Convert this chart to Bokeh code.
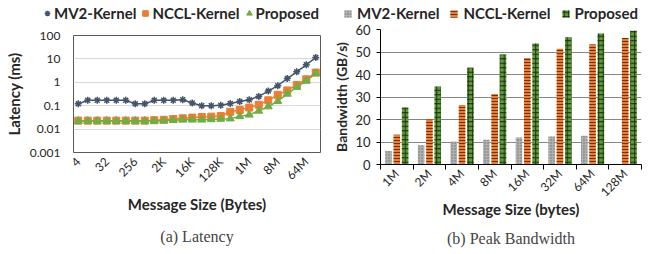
import math
from bokeh.plotting import figure
from bokeh.layouts import row, column
from bokeh.models import (ColumnDataSource, Range1d, FixedTicker, CustomJSTickFormatter,
                          Legend, LegendItem, Title)
from bokeh.transform import dodge
from bokeh.embed import file_html
from bokeh.resources import INLINE

# ---------------- data: latency ----------------
lat_sizes = ["4", "8", "16", "32", "64", "128", "256", "512", "1K", "2K", "4K", "8K",
             "16K", "32K", "64K", "128K", "256K", "512K", "1M", "2M", "4M", "8M",
             "16M", "32M", "64M", "128M"]
lat_mv2 = [0.12, 0.17, 0.17, 0.17, 0.17, 0.17, 0.12, 0.12, 0.17, 0.17, 0.17, 0.18,
           0.13, 0.10, 0.10, 0.105, 0.125, 0.15, 0.18, 0.25, 0.42, 0.72, 1.45, 2.8, 5.6, 11.5]
lat_nccl = [0.023, 0.023, 0.023, 0.023, 0.023, 0.023, 0.023, 0.023, 0.024, 0.025, 0.027,
            0.029, 0.031, 0.033, 0.034, 0.036, 0.055, 0.065, 0.083, 0.11, 0.17, 0.29,
            0.45, 0.77, 1.35, 2.6]
lat_prop = [0.022, 0.022, 0.022, 0.022, 0.022, 0.022, 0.022, 0.022, 0.022, 0.023, 0.024,
            0.025, 0.025, 0.025, 0.026, 0.027, 0.028, 0.035, 0.041, 0.06, 0.092, 0.155,
            0.32, 0.62, 1.15, 2.4]
lat_label_step = 3
lat_yticks = [0.001, 0.01, 0.1, 1, 10, 100]

# ---------------- data: bandwidth ----------------
bw_sizes = ["1M", "2M", "4M", "8M", "16M", "32M", "64M", "128M"]
bw_mv2 = [6.0, 8.6, 10.2, 11.0, 12.0, 12.4, 12.8, None]
bw_nccl = [13.2, 20.0, 26.4, 31.3, 47.3, 51.5, 53.3, 56.2]
bw_prop = [25.3, 34.7, 43.0, 48.9, 53.8, 56.6, 58.2, 59.4]
bw_yticks = [0, 10, 20, 30, 40, 50, 60]

series_names = ["MV2-Kernel", "NCCL-Kernel", "Proposed"]

SANS = "Lato"
SERIF = "Liberation Serif"
C_MV2 = "#44546A"
C_NCCL = "#ED7D31"
C_PROP = "#70AD47"
TXT = "#262626"
LEG_H = 24
TOTAL_H = 253


def style_axis_label(ax, text, standoff, size="15px"):
    ax.axis_label = text
    ax.axis_label_text_font = SANS
    ax.axis_label_text_font_size = size
    ax.axis_label_text_font_style = "bold"
    ax.axis_label_text_color = TXT
    ax.axis_label_standoff = standoff


def legend_fig(width):
    f = figure(width=width, height=LEG_H, output_backend="svg", toolbar_location=None,
               x_axis_type=None, y_axis_type=None, x_range=Range1d(0, 1), y_range=Range1d(0, 1),
               min_border=0, min_border_left=0, min_border_right=0, min_border_top=0,
               min_border_bottom=0)
    f.outline_line_color = None
    f.background_fill_color = "white"
    f.border_fill_color = "white"
    f.grid.visible = False
    return f


def make_legend(items, loc, gw, gh, standoff, spacing):
    return Legend(items=items, orientation="horizontal", location=loc,
                  glyph_width=gw, glyph_height=gh, label_standoff=standoff, spacing=spacing,
                  padding=0, margin=0, background_fill_alpha=0, border_line_color=None,
                  label_text_font=SANS, label_text_font_size="15px",
                  label_text_font_style="bold", label_text_color=TXT)


# ================= Left: latency =================
idx = list(range(len(lat_sizes)))
src_lat = ColumnDataSource(dict(x=idx, mv2=lat_mv2, nccl=lat_nccl, prop=lat_prop))

p1 = figure(width=330, height=TOTAL_H - LEG_H, output_backend="svg", toolbar_location=None,
            y_axis_type="log", x_range=Range1d(-0.5, len(idx) - 0.5),
            y_range=Range1d(lat_yticks[0], lat_yticks[-1]),
            min_border_left=73, min_border_right=10, min_border_top=35 - LEG_H, min_border_bottom=20)
p1.background_fill_color = "white"
p1.border_fill_color = "white"
p1.outline_line_color = "#595959"
p1.outline_line_width = 1

l1 = legend_fig(330)
marker_specs = [("mv2", C_MV2, "asterisk"), ("nccl", C_NCCL, "square"), ("prop", C_PROP, "triangle")]
leg_r1 = []
for col, colr, mk in marker_specs:
    p1.line("x", col, source=src_lat, line_color=colr, line_width=1.5)
    sz = 7 if mk != "triangle" else 8
    kw = dict(marker=mk, size=sz, line_color=colr, fill_color=colr,
              line_width=1.5 if mk == "asterisk" else 1)
    p1.scatter("x", col, source=src_lat, **kw)
    leg_r1.append(l1.scatter("x", col, source=src_lat, visible=False, **kw))

p1.xgrid.visible = False
p1.ygrid.grid_line_color = "#D9D9D9"
p1.ygrid.grid_line_width = 1

xa = p1.xaxis[0]
xa.ticker = FixedTicker(ticks=idx[::lat_label_step], minor_ticks=[])
xa.major_label_overrides = {i: lat_sizes[i] for i in idx[::lat_label_step]}
xa.major_label_orientation = math.pi / 4
xa.axis_line_color = None
xa.major_tick_line_color = None
xa.major_tick_out = 0
xa.major_tick_in = 0
xa.minor_tick_line_color = None
xa.major_label_text_font = SANS
xa.major_label_text_font_size = "12px"
xa.major_label_text_color = TXT
xa.major_label_standoff = 7
style_axis_label(xa, "Message Size (Bytes)", 2)

ya = p1.yaxis[0]
ya.ticker = FixedTicker(ticks=lat_yticks, minor_ticks=[])
ya.formatter = CustomJSTickFormatter(code="return tick >= 1 ? tick.toFixed(0) : tick.toPrecision(1);")
ya.axis_line_color = None
ya.major_tick_line_color = None
ya.major_tick_out = 0
ya.major_tick_in = 0
ya.minor_tick_line_color = None
ya.major_label_text_font = SANS
ya.major_label_text_font_size = "12px"
ya.major_label_text_color = TXT
ya.major_label_standoff = 13
style_axis_label(ya, "Latency (ms)", 4)

l1.add_layout(make_legend([LegendItem(label=n, renderers=[r]) for n, r in zip(series_names, leg_r1)],
                          (40, 2), 14, 16, 0, 2), "center")

p1.add_layout(Title(text="(a) Latency", align="center", text_font=SERIF,
                    text_font_size="16px", text_font_style="normal", standoff=18), "below")

# ================= Right: bandwidth =================
bidx = list(range(len(bw_sizes)))
src_bw = ColumnDataSource(dict(x=bidx,
                               mv2=[float("nan") if v is None else v for v in bw_mv2],
                               nccl=bw_nccl, prop=bw_prop))

p2 = figure(width=331, height=TOTAL_H - LEG_H, output_backend="svg", toolbar_location=None,
            x_range=Range1d(-0.5, len(bidx) - 0.5),
            y_range=Range1d(bw_yticks[0], bw_yticks[-1]),
            min_border_left=49, min_border_right=20, min_border_top=29 - LEG_H, min_border_bottom=20)
p2.background_fill_color = "white"
p2.border_fill_color = "white"
p2.outline_line_color = None

l2 = legend_fig(331)
bw = 0.2
off = 0.255
bar_specs = [
    ("mv2", -off, dict(fill_color="#B0B0B0", hatch_pattern="dot", hatch_color="#707070", hatch_scale=3)),
    ("nccl", 0.0, dict(fill_color=C_NCCL, hatch_pattern="horizontal_line", hatch_color="#6B3310", hatch_scale=3)),
    ("prop", off, dict(fill_color="#5E9E3B", hatch_pattern="cross", hatch_color="#1F2E14", hatch_scale=4.5)),
]
leg_r2 = []
for col, o, st in bar_specs:
    p2.vbar(x=dodge("x", o, range=p2.x_range), top=col, width=bw, source=src_bw,
            line_color=None, hatch_weight=1, **st)
    leg_r2.append(l2.vbar(x="x", top=col, width=bw, source=src_bw, visible=False,
                          line_color=None, hatch_weight=1, **st))

p2.xgrid.visible = False
p2.ygrid.grid_line_color = "#868686"
p2.ygrid.grid_line_width = 1

xb = p2.xaxis[0]
xb.ticker = FixedTicker(ticks=bidx, minor_ticks=[i - 0.5 for i in range(len(bidx) + 1)])
xb.major_label_overrides = {i: bw_sizes[i] for i in bidx}
xb.major_label_orientation = math.pi / 4
xb.axis_line_color = "black"
xb.axis_line_width = 1
xb.major_tick_line_color = None
xb.major_tick_out = 0
xb.major_tick_in = 0
xb.minor_tick_line_color = "black"
xb.minor_tick_in = 0
xb.minor_tick_out = 5
xb.major_label_text_font = SANS
xb.major_label_text_font_size = "12px"
xb.major_label_text_color = TXT
xb.major_label_standoff = 2
style_axis_label(xb, "Message Size (bytes)", -8)

yb = p2.yaxis[0]
yb.ticker = FixedTicker(ticks=bw_yticks, minor_ticks=[])
yb.axis_line_color = "black"
yb.major_tick_line_color = "black"
yb.major_tick_in = 0
yb.major_tick_out = 4
yb.minor_tick_line_color = None
yb.major_label_text_font = SANS
yb.major_label_text_font_size = "13px"
yb.major_label_text_color = TXT
yb.major_label_standoff = 6
style_axis_label(yb, "Bandwidth (GB/s)", 2, size="14px")

l2.add_layout(make_legend([LegendItem(label=n, renderers=[r]) for n, r in zip(series_names, leg_r2)],
                          (13, 2), 9, 9, 5, 10), "center")

p2.add_layout(Title(text="(b) Peak Bandwidth", align="center", text_font=SERIF,
                    text_font_size="16px", text_font_style="normal", standoff=14), "below")

layout = row(column(column(l1), column(p1), spacing=0),
             column(column(l2), column(p2), spacing=0), spacing=0)
open("out.html", "w").write(file_html(layout, INLINE))
